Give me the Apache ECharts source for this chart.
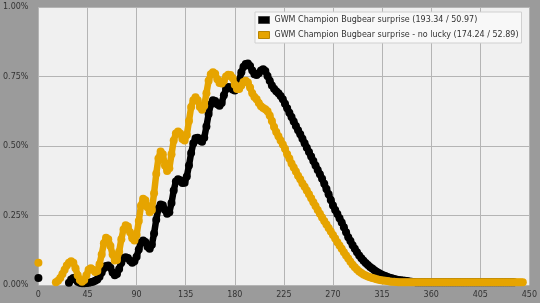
<!DOCTYPE html>
<html><head><meta charset="utf-8">
<script src="https://cdn.jsdelivr.net/npm/echarts@6/dist/echarts.min.js"></script>
<style>html,body{margin:0;padding:0;background:#9b9b9b}#c{width:540px;height:303px}</style>
</head><body><div id="c"></div>
<script>
const seriesNames = [
  "GWM Champion Bugbear surprise (193.34 / 50.97)",
  "GWM Champion Bugbear surprise - no lucky (174.24 / 52.89)"
];
const xTicks = [0,45,90,135,180,225,270,315,360,405,450];
const yTicks = [0,0.25,0.5,0.75,1.0];
// x positions 0..444 step 2
const xs = [];
for (let x = 0; x <= 444; x += 2) xs.push(x);

// values in percent, one per x position (null = no point)
const black = [
0.025,null,null,null,null,null,null,null,null,null,null,null,null,null,
0.008,0.02,0.025,0.02,0.012,0.008,0.006,0.006,0.007,0.008,
0.01,0.012,0.015,0.02,0.03,0.045,0.06,0.068,0.07,0.062,
0.045,0.035,0.04,0.058,0.08,0.097,0.10,0.097,0.087,0.08,
0.085,0.102,0.128,0.152,0.16,0.155,0.138,0.13,0.145,0.185,
0.235,0.275,0.29,0.287,0.27,0.256,0.262,0.295,0.34,0.372,
0.38,0.377,0.367,0.368,0.39,0.43,0.475,0.51,0.528,0.53,
0.52,0.515,0.53,0.57,0.615,0.65,0.665,0.662,0.65,0.645,
0.655,0.683,0.705,0.712,0.71,0.703,0.70,0.71,0.735,0.765,
0.785,0.795,0.797,0.788,0.772,0.758,0.755,0.762,0.772,0.776,
0.77,0.752,0.735,0.718,0.706,0.697,0.69,0.68,0.668,0.652,
0.636,0.62,0.604,0.588,0.572,0.557,0.542,0.526,0.51,0.494,
0.478,0.462,0.446,0.43,0.414,0.398,0.382,0.364,0.345,0.326,
0.306,0.286,0.27,0.255,0.24,0.225,0.208,0.19,0.172,0.158,
0.143,0.13,0.118,0.106,0.096,0.087,0.079,0.072,0.065,0.059,
0.053,0.048,0.043,0.039,0.035,0.032,0.029,0.026,0.024,0.022,
0.02,0.018,0.017,0.016,0.015,0.014,0.013,0.012,0.011,0.01,
0.01,0.01,0.01,0.01,0.01,0.01,0.01,0.01,0.01,0.01,
0.01,0.01,0.01,0.01,0.01,0.01,0.01,0.01,0.01,0.01,
0.01,0.01,0.01,0.01,0.01,0.01,0.01,0.01,0.01,0.01,
0.01,0.01,0.01,0.01,0.01,0.01,0.01,0.01,0.01,0.01,
0.01,0.01,0.01,0.01,0.01
];
const gold = [
0.08,null,null,null,null,null,null,null,
0.01,0.015,0.025,0.04,0.055,0.07,0.08,0.085,0.08,0.06,
0.035,0.018,0.012,0.018,0.035,0.055,0.06,0.055,0.047,0.05,
0.075,0.11,0.15,0.17,0.165,0.14,0.11,0.088,0.09,0.12,
0.165,0.20,0.215,0.21,0.19,0.168,0.16,0.18,0.23,0.285,
0.31,0.305,0.28,0.262,0.27,0.33,0.40,0.455,0.48,0.47,
0.43,0.41,0.42,0.47,0.52,0.545,0.552,0.545,0.525,0.52,
0.54,0.59,0.64,0.665,0.675,0.665,0.64,0.63,0.645,0.69,
0.735,0.758,0.765,0.76,0.74,0.727,0.725,0.735,0.75,0.756,
0.755,0.745,0.72,0.705,0.705,0.718,0.73,0.735,0.728,0.71,
0.69,0.676,0.668,0.655,0.643,0.637,0.632,0.625,0.61,0.59,
0.568,0.55,0.535,0.52,0.505,0.49,0.47,0.455,0.437,0.423,
0.408,0.393,0.38,0.365,0.353,0.34,0.326,0.312,0.298,0.284,
0.27,0.256,0.243,0.23,0.218,0.205,0.192,0.18,0.167,0.154,
0.142,0.13,0.118,0.106,0.095,0.084,0.073,0.064,0.056,0.049,
0.043,0.038,0.034,0.031,0.028,0.025,0.023,0.021,0.019,0.017,
0.016,0.015,0.014,0.013,0.012,0.012,0.011,0.01,0.01,0.01,
0.01,0.01,0.01,0.01,0.01,0.01,0.01,0.01,0.01,0.01,
0.01,0.01,0.01,0.01,0.01,0.01,0.01,0.01,0.01,0.01,
0.01,0.01,0.01,0.01,0.01,0.01,0.01,0.01,0.01,0.01,
0.01,0.01,0.01,0.01,0.01,0.01,0.01,0.01,0.01,0.01,
0.01,0.01,0.01,0.01,0.01,0.01,0.01,0.01,0.01,0.01,
0.01,0.01,0.01,0.01,0.01
];
const colors = ['#000000', '#e6a400'];

function pairs(vals) {
  return xs.map((x, i) => [x, (vals[i] === null || vals[i] === undefined) ? '-' : vals[i]]);
}
const chart = echarts.init(document.getElementById('c'), null, {renderer: 'canvas'});
const font = 'DejaVu Sans';
function mk(name, vals, color, z) {
  return {
    name: name, type: 'line', data: pairs(vals), z: z,
    showSymbol: true, showAllSymbol: true, symbol: 'circle', symbolSize: 8,
    itemStyle: {color: color}, lineStyle: {color: color, width: 6.5},
    connectNulls: false, clip: true, animation: false, silent: true,
    emphasis: {disabled: true}
  };
}
chart.setOption({
  backgroundColor: '#9b9b9b',
  animation: false,
  color: colors,
  grid: {left: 37, right: 10, top: 7, bottom: 18, show: true, backgroundColor: '#f0f0f0', borderWidth: 0},
  legend: {
    orient: 'vertical', left: 255, top: 12, z: 10,
    backgroundColor: '#f8f8f8', borderColor: '#d0d0d0', borderWidth: 1,
    padding: [3, 3, 3, 3], itemGap: 5, itemWidth: 11, itemHeight: 7, icon: 'rect',
    textStyle: {fontFamily: font, fontSize: 8, color: '#333', lineHeight: 10},
    data: seriesNames.map((n, i) => ({name: n, itemStyle: {color: colors[i], borderColor: i ? '#b88400' : '#444', borderWidth: 1}}))
  },
  xAxis: {
    type: 'value', min: xTicks[0], max: xTicks[xTicks.length - 1], interval: 45,
    axisLine: {show: false}, axisTick: {show: false},
    splitLine: {show: true, lineStyle: {color: '#b4b4b4', width: 1}},
    axisLabel: {fontFamily: font, fontSize: 8, color: '#333', margin: 6}
  },
  yAxis: {
    type: 'value', min: yTicks[0], max: yTicks[yTicks.length - 1], interval: 0.25,
    axisLine: {show: false}, axisTick: {show: false},
    splitLine: {show: true, lineStyle: {color: '#b4b4b4', width: 1}},
    axisLabel: {fontFamily: font, fontSize: 8, color: '#333', margin: 10, formatter: v => v.toFixed(2) + '%'}
  },
  series: [mk(seriesNames[0], black, colors[0], 2), mk(seriesNames[1], gold, colors[1], 3)]
});
</script></body></html>
